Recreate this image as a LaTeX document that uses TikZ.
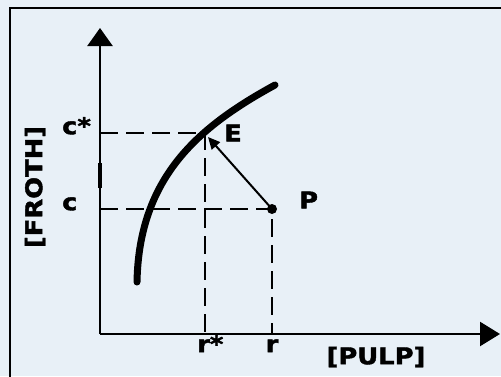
\documentclass[tikz,border=0pt]{standalone}
\usepackage{fontspec}
\newfontfamily\lblfont{DejaVu Sans}[FakeStretch=1.12, FakeBold=1.8]
\usetikzlibrary{arrows.meta}
\definecolor{paper}{RGB}{232,240,247}

\begin{document}
\begin{tikzpicture}[x=1pt, y=1pt, line width=2.4pt,
    lbl/.style={font=\lblfont\bfseries\fontsize{23}{27}\selectfont, inner sep=0pt},
    guide/.style={line width=2.2pt, dash pattern=on 18pt off 8pt}]
  \useasboundingbox (0,0) rectangle (501,376);
  \fill[paper] (0,0) rectangle (501,376);
  \draw[line width=2pt] (10,-5) rectangle (506,368);

  \coordinate (O) at (100,42);
  \coordinate (Ytop) at (100,348);
  \coordinate (Xend) at (500,42);
  \draw[-{Triangle[width=25pt,length=18pt]}] (O) -- (Ytop);
  \draw[-{Triangle[width=24pt,length=20pt]}] (O) -- (Xend);
  \draw[line width=4pt] (100,188) -- (100,213);

  % equilibrium curve
  \coordinate (low) at (137,94);
  \coordinate (high) at (275,291);
  \draw[line width=7pt, line cap=round] (low) .. controls (139,200) and (200,250) .. (high);

  \coordinate (E) at (205,243);
  \coordinate (P) at (272,167);
  \coordinate (Cs) at (100,243);
  \coordinate (C) at (100,167);
  \coordinate (Rs) at (205,42);
  \coordinate (R) at (272,42);
  \draw[guide] (Cs) -- (E) -- (Rs);
  \draw[guide] (C) -- (P) -- (R);
  \fill (P) circle (5pt);
  \draw[line width=2pt, -{Triangle[width=11pt,length=12pt]}] (P) -- (208,239);

  \node[lbl, anchor=mid west] (cs) at (61,244) {c*};
  \node[lbl, anchor=mid west] (c) at (61,168) {c};
  \node[lbl, anchor=west] (e) at (223,243) {E};
  \node[lbl, anchor=west] (p) at (298,176) {P};
  \node[lbl, anchor=mid west] (rs) at (196,26) {r*};
  \node[lbl, anchor=mid] (r) at (272,26) {r};
  \node[lbl] (pulp) at (376,19) {[PULP]};
  \node[lbl, rotate=90] (froth) at (35,189) {[FROTH]};
\end{tikzpicture}
\end{document}
